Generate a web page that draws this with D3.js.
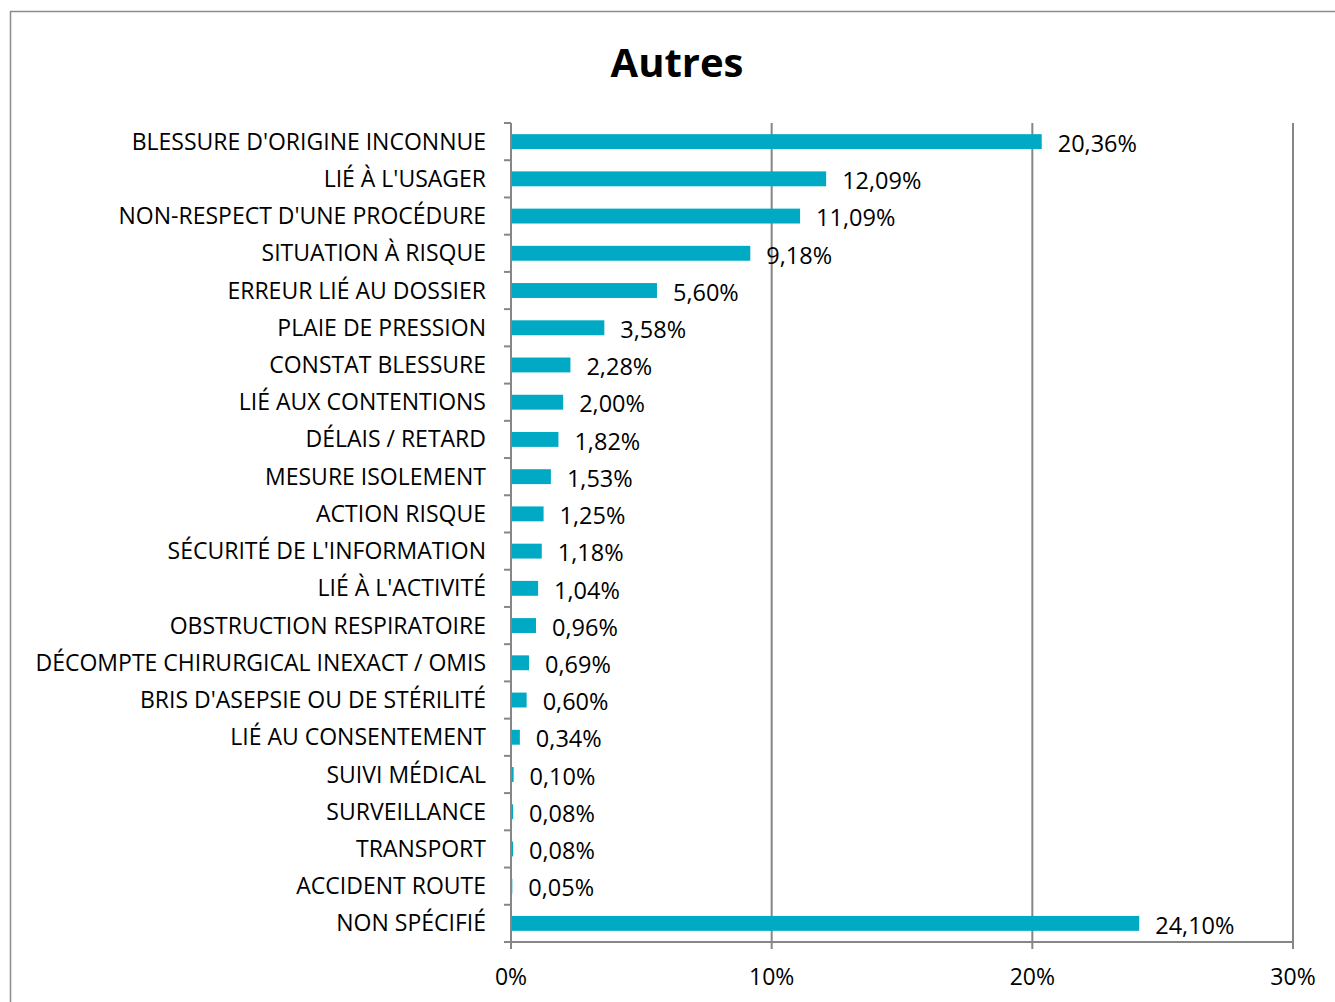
<!DOCTYPE html>
<html lang="fr">
<head>
<meta charset="UTF-8">
<title>Autres</title>
<script src="https://d3js.org/d3.v7.min.js"></script>
<style>
    body { margin: 0; background: #fff; }
    svg { display: block; font-family: "Open Sans", "Noto Sans", sans-serif; }
    .cat { font-size: 23px; fill: #000; }
    .val { font-size: 23.5px; fill: #000; }
    .tick-label { font-size: 23px; fill: #000; }
    .axis-line { stroke: #868686; stroke-width: 2; fill: none; }
</style>
</head>
<body>
<svg width="1335" height="1002"></svg>
<script>
// categories, top to bottom
const categories = [
    "BLESSURE D'ORIGINE INCONNUE", "LIÉ À L'USAGER", "NON-RESPECT D'UNE PROCÉDURE",
    "SITUATION À RISQUE", "ERREUR LIÉ AU DOSSIER", "PLAIE DE PRESSION",
    "CONSTAT BLESSURE", "LIÉ AUX CONTENTIONS", "DÉLAIS / RETARD",
    "MESURE ISOLEMENT", "ACTION RISQUE", "SÉCURITÉ DE L'INFORMATION",
    "LIÉ À L'ACTIVITÉ", "OBSTRUCTION RESPIRATOIRE", "DÉCOMPTE CHIRURGICAL INEXACT / OMIS",
    "BRIS D'ASEPSIE OU DE STÉRILITÉ", "LIÉ AU CONSENTEMENT", "SUIVI MÉDICAL",
    "SURVEILLANCE", "TRANSPORT", "ACCIDENT ROUTE", "NON SPÉCIFIÉ"
];
const values = [20.36, 12.09, 11.09, 9.18, 5.60, 3.58, 2.28, 2.00, 1.82, 1.53, 1.25,
    1.18, 1.04, 0.96, 0.69, 0.60, 0.34, 0.10, 0.08, 0.08, 0.05, 24.10];
const xTicks = [0, 10, 20, 30];

const svg = d3.select("svg");
const plotLeft = 511, plotRight = 1293, plotTop = 123, plotBottom = 942;

const x = d3.scaleLinear().domain([0, 30]).range([plotLeft, plotRight]);
const y = d3.scaleBand().domain(categories).range([plotTop, plotBottom])
    .paddingInner(0.6).paddingOuter(0.3);

const fmt = v => v.toFixed(2).replace(".", ",") + "%";

// outer frame
svg.append("rect")
    .attr("x", 10.5).attr("y", 11.5)
    .attr("width", 1400).attr("height", 1100)
    .attr("fill", "none").attr("stroke", "#8c8c8c").attr("stroke-width", 1.5);

// title
svg.append("text")
    .attr("x", 677).attr("y", 77)
    .attr("text-anchor", "middle")
    .style("font-size", "40px").style("font-weight", "bold")
    .text("Autres");

// vertical gridlines
svg.selectAll("line.grid")
    .data(xTicks.filter(d => d > 0))
    .enter().append("line")
    .attr("class", "axis-line")
    .attr("x1", d => x(d)).attr("x2", d => x(d))
    .attr("y1", plotTop).attr("y2", plotBottom);

// bars
svg.selectAll("rect.bar")
    .data(values)
    .enter().append("rect")
    .attr("class", "bar")
    .attr("x", x(0))
    .attr("y", (d, i) => y(categories[i]))
    .attr("width", d => x(d) - x(0))
    .attr("height", y.bandwidth())
    .attr("fill", "#00a9c4");

// value labels
svg.selectAll("text.val")
    .data(values)
    .enter().append("text")
    .attr("class", "val")
    .attr("x", d => x(d) + 16)
    .attr("y", (d, i) => y(categories[i]) + y.bandwidth() / 2 + 2)
    .attr("dy", "0.35em")
    .text(fmt);

// category axis
const step = y.step();
const edges = d3.range(categories.length + 1).map(i => plotTop + i * step);
svg.append("line").attr("class", "axis-line")
    .attr("x1", plotLeft).attr("x2", plotLeft).attr("y1", plotTop).attr("y2", plotBottom);
svg.selectAll("line.ytick")
    .data(edges)
    .enter().append("line")
    .attr("class", "axis-line")
    .attr("x1", plotLeft - 7).attr("x2", plotLeft)
    .attr("y1", d => d).attr("y2", d => d);
svg.selectAll("text.cat")
    .data(categories)
    .enter().append("text")
    .attr("class", "cat")
    .attr("x", plotLeft - 25)
    .attr("y", d => y(d) + y.bandwidth() / 2)
    .attr("dy", "0.35em")
    .attr("text-anchor", "end")
    .text(d => d);

// value axis
svg.append("line").attr("class", "axis-line")
    .attr("x1", plotLeft).attr("x2", plotRight).attr("y1", plotBottom).attr("y2", plotBottom);
svg.selectAll("line.xtick")
    .data(xTicks)
    .enter().append("line")
    .attr("class", "axis-line")
    .attr("x1", d => x(d)).attr("x2", d => x(d))
    .attr("y1", plotBottom).attr("y2", plotBottom + 7);
svg.selectAll("text.tick-label")
    .data(xTicks)
    .enter().append("text")
    .attr("class", "tick-label")
    .attr("x", d => x(d))
    .attr("y", 985)
    .attr("text-anchor", "middle")
    .text(d => d + "%");
</script>
</body>
</html>
